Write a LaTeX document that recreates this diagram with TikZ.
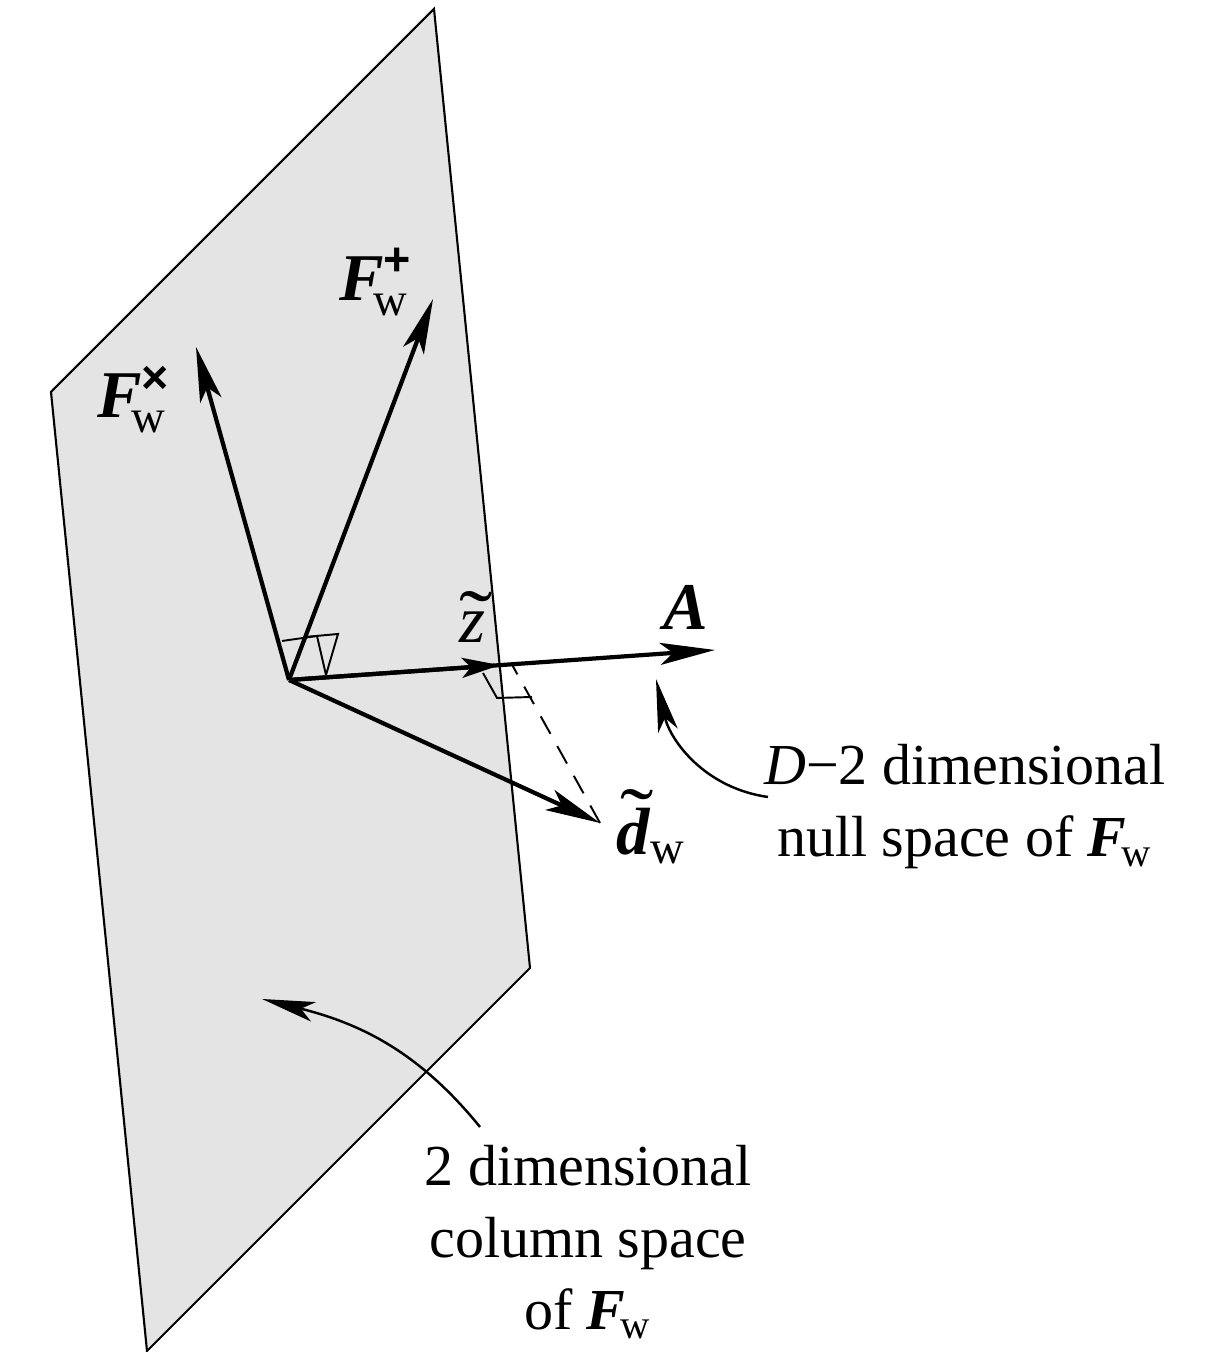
\documentclass[tikz,border=0pt]{standalone}
\usepackage{amsmath}
\usepackage{fontspec}
\setmainfont{Liberation Serif}
\setsansfont{Liberation Sans}
\usetikzlibrary{arrows.meta,calc}
\definecolor{planegray}{RGB}{228,228,228}
\newcommand{\bvec}[1]{\textbf{\textit{#1}}}
\newcommand{\tld}[2]{\ooalign{#2\cr
  \hidewidth\kern0.12em\raisebox{#1}{\scalebox{1.5}[1.2]{˜}}\hidewidth\cr}}

\begin{document}
\begin{tikzpicture}[
    plane/.style={draw,line width=0.6pt,fill=planegray},
    vec/.style={draw,line width=1.2pt,
                -{Stealth[length=5.5mm,width=2.2mm,inset=1.3mm]}},
    shortvec/.style={draw,line width=1.2pt,
                -{Stealth[length=3.8mm,width=2mm,inset=0.9mm]}},
    note/.style={draw,line width=0.7pt,
                -{Stealth[length=5.3mm,width=2mm,inset=1.3mm]}},
    rmark/.style={draw,line width=0.55pt},
    lbl/.style={font=\fontsize{19}{22}\selectfont,inner sep=0pt},
    txt/.style={font=\fontsize{16.5}{20.5}\selectfont,align=center,
                inner sep=0pt}
  ]
  \useasboundingbox (0,0) rectangle (12.09,13.52);
  \draw[plane](4.34,13.43)--(5.30,3.84)--(1.47,0.01)--(0.51,9.60)--cycle;

  \coordinate (O) at (2.89,6.72);
  \coordinate (Fx) at (1.96,10.05);
  \coordinate (Fp) at (4.33,10.53);
  \coordinate (A) at (7.15,7.02);
  \coordinate (Z) at ($(O)!0.495!(A)$);
  \coordinate (Zf) at ($(O)!0.523!(A)$);
  \coordinate (D) at (6.00,5.29);

  % right angles
  \draw[rmark](2.82,7.11)--(3.17,7.16)--(3.26,6.77);
  \draw[rmark](3.05,7.15)--(3.38,7.18)--(3.26,6.77);
  \draw[rmark](4.83,6.79)--(4.97,6.54)--(5.32,6.55);
  \draw[rmark,dash pattern=on 2mm off 1.4mm](D)--(Zf);

  \draw[vec](O)--(Fx);
  \draw[vec](O)--(Fp);
  \draw[vec](O)--(A);
  \draw[shortvec](O)--(Z);
  \draw[vec](O)--(D);

  \node[lbl] (fxl) at (1.34,9.52)
    {$\bvec{F}^{\textsf{\textbf{×}}}_{\kern-0.15em\textrm{w}}$};
  \node[lbl] (fpl) at (3.76,10.70)
    {$\bvec{F}^{\textsf{\textbf{+}}}_{\kern-0.15em\textrm{w}}$};
  \node[lbl] (zl) at (4.72,7.23) {\tld{-0.05em}{\textit{z}}};
  \node[lbl] (al) at (6.86,7.45) {\bvec{A}};
  \node[lbl] (dl) at (6.51,5.16)
    {$\text{\tld{0.17em}{\bvec{d}}}_{\textrm{w}}$};

  \node[txt] (nullsp) at (9.65,5.45)
    {\textit{D}−2 dimensional\\null space of
     $\bvec{F}_{\kern-0.08em\textrm{w}}$};
  \node[txt] (colsp) at (5.88,1.10)
    {2 dimensional\\column space\\of $\bvec{F}_{\kern-0.08em\textrm{w}}$};

  % pointers
  \coordinate (c1) at (4.80,2.25);
  \coordinate (c1t) at (2.62,3.53);
  \draw[note](c1) to[out=129,in=-14] (c1t);
  \coordinate (n1) at (7.68,5.55);
  \coordinate (n1t) at (6.56,6.73);
  \draw[note](n1) to[out=172,in=-77] (n1t);
\end{tikzpicture}
\end{document}
